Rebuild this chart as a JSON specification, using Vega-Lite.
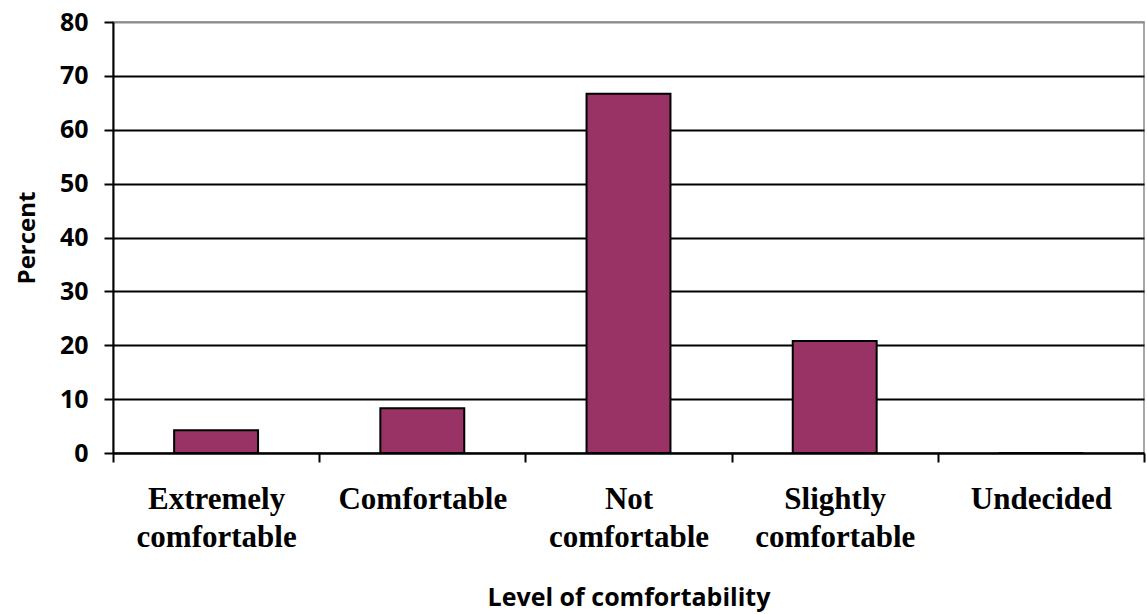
{
  "$schema": "https://vega.github.io/schema/vega-lite/v6.json",
  "width": 1031,
  "height": 431,
  "autosize": {"type": "none"},
  "padding": {"left": 113, "top": 22, "right": 3, "bottom": 161},
  "background": "white",
  "config": {
    "view": {"stroke": "#8c8c8c", "strokeWidth": 1.5},
    "font": "Open Sans"
  },
  "data": {
    "values": [
      {"level": "Extremely comfortable", "percent": 4.2},
      {"level": "Comfortable", "percent": 8.3},
      {"level": "Not comfortable", "percent": 66.7},
      {"level": "Slightly comfortable", "percent": 20.8},
      {"level": "Undecided", "percent": 0}
    ]
  },
  "mark": {"type": "bar", "color": "#993366", "stroke": "black", "strokeWidth": 2, "width": {"band": 0.407}},
  "encoding": {
    "x": {
      "field": "level",
      "type": "nominal",
      "sort": null,
      "scale": {"paddingInner": 0, "paddingOuter": 0},
      "axis": {
        "title": "Level of comfortability",
        "titleFont": "Open Sans",
        "titleFontSize": 25,
        "titleFontWeight": "bold",
        "titleColor": "black",
        "titlePadding": 33,
        "labelAngle": 0,
        "labelExpr": "split(datum.label, ' ')",
        "labelFont": "Liberation Serif",
        "labelFontSize": 31,
        "labelFontWeight": "bold",
        "labelColor": "black",
        "labelLineHeight": 38,
        "labelPadding": 22,
        "labelBaseline": "top",
        "tickBand": "extent",
        "ticks": true,
        "tickSize": 9,
        "tickColor": "black",
        "tickWidth": 2,
        "domainColor": "black",
        "domainWidth": 2,
        "grid": false
      }
    },
    "y": {
      "field": "percent",
      "type": "quantitative",
      "scale": {"domain": [0, 80], "nice": false},
      "axis": {
        "title": "Percent",
        "titleFont": "Open Sans",
        "titleFontSize": 24,
        "titleFontWeight": "bold",
        "titleColor": "black",
        "titlePadding": 20,
        "values": [0, 10, 20, 30, 40, 50, 60, 70, 80],
        "labelFont": "Open Sans",
        "labelFontSize": 25,
        "labelFontWeight": "bold",
        "labelColor": "black",
        "labelPadding": 16,
        "tickSize": 9,
        "tickColor": "black",
        "tickWidth": 2,
        "domainColor": "black",
        "domainWidth": 2,
        "grid": true,
        "gridColor": {"condition": {"test": "datum.value == 80", "value": "#8c8c8c"}, "value": "black"},
        "gridWidth": 2
      }
    }
  }
}
